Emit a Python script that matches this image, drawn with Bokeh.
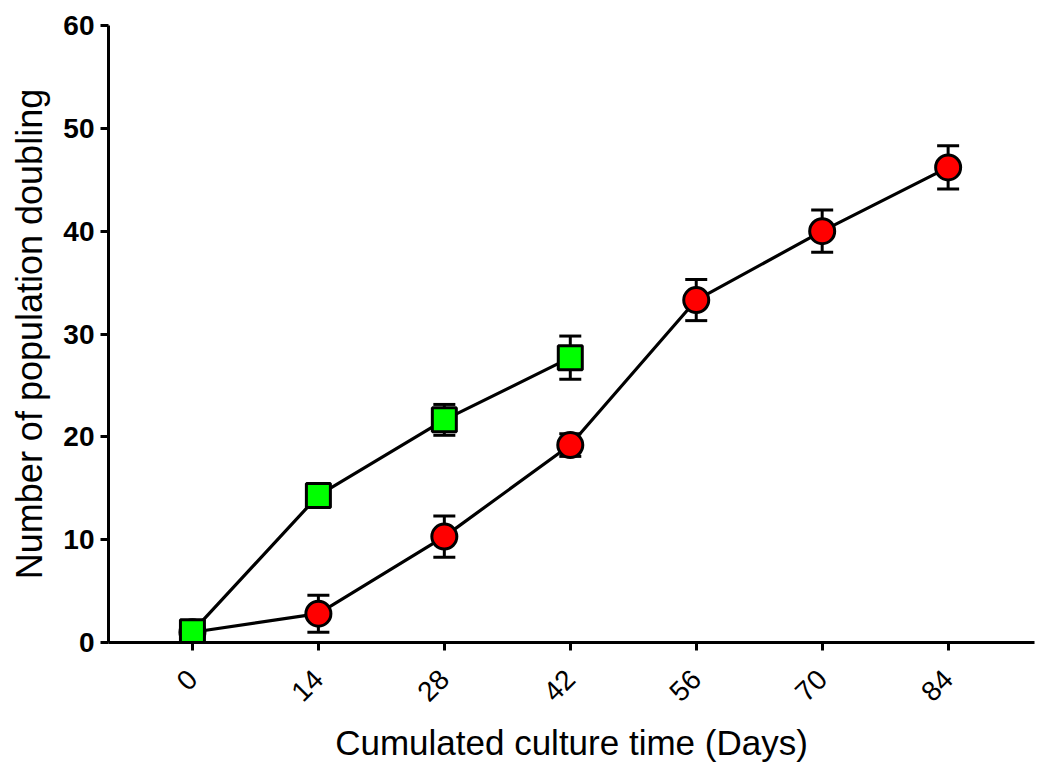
import math
from bokeh.plotting import figure
from bokeh.models import Range1d, Whisker, TeeHead, ColumnDataSource, FixedTicker
from bokeh.embed import file_html
from bokeh.resources import INLINE

# ---- data ----
days = [0, 14, 28, 42, 56, 70, 84]
red_mean = [1.0, 2.8, 10.3, 19.2, 33.3, 40.0, 46.2]
red_err = [0.0, 1.8, 2.0, 1.1, 2.0, 2.05, 2.1]

green_days = [0, 14, 28, 42]
green_mean = [1.05, 14.3, 21.65, 27.7]
green_err = [0.0, 0.5, 1.5, 2.1]

x_ticks = [0, 14, 28, 42, 56, 70, 84]
y_ticks = [0, 10, 20, 30, 40, 50, 60]

FONT = "Liberation Sans"

p = figure(width=1038, height=764, output_backend="svg", toolbar_location=None,
           x_range=Range1d(-9.33, 93.6), y_range=Range1d(0, 60),
           min_border_left=108, min_border_right=4, min_border_top=25,
           min_border_bottom=121)
p.outline_line_color = None
p.grid.visible = False
p.background_fill_color = "white"
p.border_fill_color = "white"

red_src = ColumnDataSource(dict(x=days, y=red_mean,
                                lo=[m - e for m, e in zip(red_mean, red_err)],
                                hi=[m + e for m, e in zip(red_mean, red_err)]))
green_src = ColumnDataSource(dict(x=green_days, y=green_mean,
                                  lo=[m - e for m, e in zip(green_mean, green_err)],
                                  hi=[m + e for m, e in zip(green_mean, green_err)]))

for src in (red_src, green_src):
    w = Whisker(source=src, base="x", lower="lo", upper="hi", dimension="height",
                line_color="black", line_width=3, level="underlay",
                upper_head=TeeHead(size=22, line_width=3, line_color="black"),
                lower_head=TeeHead(size=22, line_width=3, line_color="black"))
    p.add_layout(w)

p.line("x", "y", source=red_src, line_color="black", line_width=3.2)
p.line("x", "y", source=green_src, line_color="black", line_width=3.2)
p.scatter("x", "y", source=red_src, marker="circle", size=25,
          fill_color="#ff0000", line_color="black", line_width=3)
p.scatter("x", "y", source=green_src, marker="square", size=24,
          fill_color="#00ff00", line_color="black", line_width=3)

for ax in (p.xaxis, p.yaxis):
    ax.axis_line_width = 3
    ax.axis_line_color = "black"
    ax.major_tick_line_width = 3
    ax.major_tick_line_color = "black"
    ax.major_tick_in = 0
    ax.major_tick_out = 8
    ax.minor_tick_line_color = None
    ax.major_label_text_font = FONT
    ax.major_label_text_font_size = "28px"
    ax.major_label_text_color = "black"
    ax.axis_label_text_font = FONT
    ax.axis_label_text_font_style = "normal"
    ax.axis_label_text_color = "black"

p.xaxis.axis_label_text_font_size = "35px"
p.yaxis.axis_label_text_font_size = "36px"
p.yaxis.major_label_text_font_style = "bold"
p.xaxis.ticker = FixedTicker(ticks=x_ticks)
p.yaxis.ticker = FixedTicker(ticks=y_ticks)
p.xaxis.major_label_orientation = math.pi / 4
p.xaxis.axis_label = "Cumulated culture time (Days)"
p.yaxis.axis_label = "Number of population doubling"
p.xaxis.major_label_standoff = 24
p.yaxis.major_label_standoff = 6
p.xaxis.axis_label_standoff = 10
p.yaxis.axis_label_standoff = 10

open("out.html", "w").write(file_html(p, INLINE))
